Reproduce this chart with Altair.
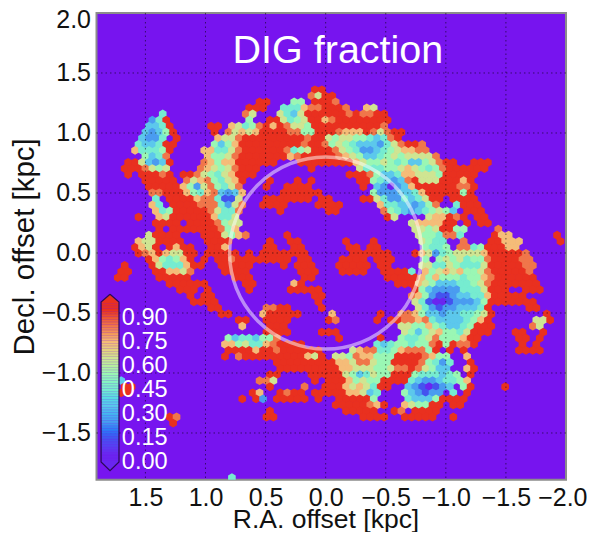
import altair as alt
import pandas as pd
import numpy as np

# Hexagon cells: (row, first column, codes). '.' = no cell.
# A code d stands for a DIG fraction of about (d + 0.5) / 10.
HEX_RUNS = [
 (0,28,"99"),
 (1,27,"8699"),
 (2,20,"99"),(2,25,"55"),(2,28,"9998"),
 (3,18,"999"),(3,23,"4447889998"),(3,35,"76"),
 (4,6,"4"),(4,18,"86"),(4,23,"6436"),(4,27,"999999898899"),
 (5,4,"249"),(5,18,"5"),(5,21,"9964569978"),(5,31,"99999999"),
 (6,4,"3349"),(6,13,"99"),(6,16,"76458"),(6,21,"9798665"),(6,28,"9999999999"),(6,38,"8"),
 (7,3,"32359"),(7,13,"9"),(7,15,"86767"),(7,20,"9999"),(7,24,"8855"),(7,28,"999"),(7,31,"8777"),(7,35,"9868"),(7,39,"99"),
 (8,3,"3224"),(8,8,"9"),(8,14,"7668"),(8,18,"999999999"),(8,27,"8996"),(8,31,"56655"),(8,36,"43489"),
 (9,2,"433499"),(9,13,"5357"),(9,17,"999999999"),(9,26,"89985"),(9,31,"65433"),(9,36,"3246"),(9,40,"8998"),
 (10,2,"744459"),(10,12,"774468"),(10,18,"999999"),(10,24,"8456"),(10,28,"999"),(10,31,"8654"),(10,35,"22345"),(10,40,"67788"),
 (11,3,"5348"),(11,12,"75568"),(11,17,"9999999"),(11,24,"78"),(11,26,"99999"),(11,31,"87653"),(11,36,"3456"),(11,40,"566668"),
 (12,1,"9963239"),(12,12,"87577"),(12,17,"999999"),(12,26,"99999999"),(12,34,"76556"),(12,39,"54533"),(12,44,"56899"),(12,51,"999"),
 (13,0,"9998656"),(13,11,"876568"),(13,17,"999"),(13,27,"9"),(13,34,"6444"),(13,38,"5567654"),(13,45,"58"),(13,47,"999999"),
 (14,1,"9"),(14,3,"99989"),(14,9,"99865467"),(14,17,"999"),(14,33,"9998"),(14,37,"533477"),(14,43,"6665"),(14,47,"99999"),
 (15,3,"99999"),(15,9,"867854679"),(15,21,"9"),(15,25,"9"),(15,27,"9"),(15,34,"99"),(15,36,"54323"),(15,41,"89"),(15,43,"666"),(15,46,"99979"),
 (16,4,"99999"),(16,9,"752685468"),(16,21,"9"),(16,24,"9999"),(16,35,"9"),(16,37,"320237"),(16,43,"999999"),(16,49,"889"),
 (17,4,"88999"),(17,9,"75478"),(17,14,"3237"),(17,23,"999999"),(17,36,"5"),(17,37,"222334"),(17,43,"7"),(17,44,"99999"),(17,49,"59"),
 (18,5,"4"),(18,7,"9999"),(18,11,"788"),(18,14,"4116"),(18,21,"9999999"),(18,29,"99"),(18,35,"99"),(18,37,"642243"),(18,43,"46"),(18,45,"99"),(18,48,"9999"),
 (19,4,"74"),(19,7,"9999"),(19,11,"888"),(19,14,"4268"),(19,20,"9999"),(19,28,"9999"),(19,37,"7443323"),(19,44,"58"),(19,48,"4999"),
 (20,5,"745"),(20,8,"99999"),(20,13,"86448"),(20,23,"9"),(20,30,"99"),(20,38,"85432345653"),(20,50,"999"),
 (21,2,"9"),(21,5,"76"),(21,7,"999999"),(21,13,"7446"),(21,38,"96"),(21,44,"677989"),(21,51,"99"),
 (22,5,"9999"),(22,10,"9999"),(22,14,"8566"),(22,42,"677779"),(22,48,"9"),(22,50,"9"),(22,52,"99"),
 (23,5,"9"),(23,7,"9999999"),(23,14,"857"),(23,42,"66569955"),(23,54,"8"),
 (24,4,"69999"),(24,12,"999"),(24,15,"6578"),(24,24,"9"),(24,43,"6554884"),(24,54,"977"),(24,63,"9"),
 (25,2,"7669999"),(25,12,"9999"),(25,21,"9"),(25,24,"99"),(25,32,"9"),(25,36,"9"),(25,43,"6544"),(25,49,"8"),(25,53,"99777"),(25,63,"9"),
 (26,2,"976"),(26,5,"9"),(26,7,"9799"),(26,13,"99"),(26,15,"7"),(26,21,"99"),(26,25,"99"),(26,33,"99"),(26,36,"99"),(26,44,"5445"),(26,49,"8845"),(26,53,"999"),(26,56,"77"),
 (27,2,"987976699"),(27,12,"99999"),(27,18,"9"),(27,20,"9999999"),(27,33,"999999"),(27,42,"97624566667"),(27,53,"999998"),
 (28,4,"9754579"),(28,12,"9"),(28,14,"99899"),(28,19,"999999"),(28,26,"99"),(28,32,"9999"),(28,37,"999"),(28,44,"5"),(28,46,"56564558"),(28,54,"9999"),(28,58,"88"),
 (29,0,"9"),(29,4,"96444799"),(29,14,"99999"),(29,23,"9"),(29,25,"999"),(29,31,"99999"),(29,37,"99"),(29,43,"6"),(29,44,"644654446"),(29,53,"99999"),(29,58,"88"),
 (30,0,"99"),(30,5,"997768"),(30,15,"9999"),(30,26,"999"),(30,32,"9999"),(30,38,"99994"),(30,44,"756767556"),(30,53,"8"),(30,54,"99999"),(30,59,"8"),
 (31,-1,"99"),(31,5,"99999"),(31,16,"999"),(31,26,"99"),(31,38,"99999"),(31,43,"7575554557"),(31,53,"8"),(31,54,"999999"),
 (32,7,"999999"),(32,18,"99"),(32,25,"79"),(32,40,"9997"),(32,44,"653334456"),(32,53,"8"),(32,54,"9999999"),
 (33,8,"999"),(33,12,"9"),(33,18,"9"),(33,24,"99999"),(33,42,"9532222"),(33,49,"4446"),(33,53,"999"),(33,58,"999"),
 (34,10,"9"),(34,12,"99"),(34,28,"99"),(34,42,"875211233447"),(34,54,"99999"),
 (35,10,"9999"),(35,28,"9"),(35,42,"64100122235"),(35,53,"9999999"),
 (36,13,"99"),(36,21,"8899"),(36,29,"9"),(36,43,"6421223334"),(36,53,"9"),(36,59,"99"),
 (37,14,"99"),(37,20,"799999"),(37,30,"7"),(37,37,"9"),(37,40,"887"),(37,43,"5332334456"),(37,53,"9"),(37,61,"9"),
 (38,17,"99"),(38,21,"9999"),(38,30,"98"),(38,37,"9"),(38,39,"99"),(38,41,"887"),(38,44,"843333457"),(38,53,"9"),(38,60,"669"),
 (39,17,"7"),(39,21,"999"),(39,40,"66557543345"),(39,51,"999"),(39,59,"86"),
 (40,21,"9999"),(40,29,"999"),(40,41,"6535675546"),(40,51,"999"),(40,57,"99"),(40,61,"9"),
 (41,15,"5344355"),(41,22,"8"),(41,31,"9"),(41,37,"9"),(41,40,"5445685557"),(41,50,"99"),(41,57,"99"),(41,60,"9"),
 (42,15,"77564478"),(42,23,"9999"),(42,37,"434554558959889"),(42,58,"9"),(42,60,"9"),
 (43,15,"9999"),(43,19,"79"),(43,21,"98999999"),(43,33,"6788"),(43,37,"4457888"),(43,44,"59"),(43,47,"9"),(43,49,"9"),(43,57,"9999"),
 (44,15,"9"),(44,17,"89"),(44,19,"99999999"),(44,27,"769"),(44,31,"6658775559"),(44,41,"999"),(44,44,"8755"),(44,50,"7"),
 (45,22,"999999999"),(45,31,"77688655"),(45,39,"9999"),(45,43,"85424"),(45,50,"9"),
 (46,23,"999999999"),(46,32,"7766655688"),(46,42,"9"),(46,43,"86533"),(46,50,"79"),
 (47,21,"99"),(47,27,"99"),(47,29,"999"),(47,32,"6534655"),(47,39,"999"),(47,42,"5444345"),(47,50,"9"),
 (48,0,"3"),(48,20,"886"),(48,28,"9"),(48,30,"999"),(48,33,"75655"),(48,38,"9999"),(48,42,"432234457"),
 (49,0,"99"),(49,21,"9"),(49,26,"8"),(49,29,"999"),(49,32,"76764"),(49,37,"99"),(49,41,"3210123"),(49,49,"59"),(49,55,"9"),
 (50,0,"99"),(50,19,"97"),(50,23,"9899"),(50,28,"99999"),(50,33,"77634"),(50,41,"532122"),(50,48,"4"),(50,50,"9"),
 (51,17,"9"),(51,19,"92"),(51,22,"99999"),(51,28,"9"),(51,31,"99999"),(51,36,"5"),(51,41,"43335"),(51,46,"9999"),
 (52,31,"99999"),(52,36,"879"),(52,41,"7655"),(52,45,"99"),(52,48,"99"),
 (53,21,"9"),(53,32,"99999"),(53,39,"98"),(53,42,"9999"),
 (54,7,"98"),(54,21,"99"),(54,35,"9999"),(54,41,"99999"),(54,48,"9"),
 (55,7,"9"),
 (64,16,"4"),
]

CODE_VALUES = [0.05, 0.15, 0.25, 0.35, 0.45, 0.55, 0.65, 0.75, 0.85, 0.95]
CODE_COLORS = ["#6a25f0", "#4453ef", "#4a9cf0", "#5cc8ec", "#76ecd0",
               "#9af7b4", "#cfe592", "#f5bc78", "#f0764a", "#e9301f"]
BACKGROUND = "#7714ef"

X_TICKS = [1.5, 1.0, 0.5, 0.0, -0.5, -1.0, -1.5, -2.0]
Y_TICKS = [-1.5, -1.0, -0.5, 0.0, 0.5, 1.0, 1.5, 2.0]
CBAR_TICKS = [0.00, 0.15, 0.30, 0.45, 0.60, 0.75, 0.90]

# hexagonal grid of the binning, in kpc
X0, DX = 1.7013, 0.05757
Y0, DY = 1.36, 0.0505

cells = []
for r, c0, codes in HEX_RUNS:
    for i, ch in enumerate(codes):
        if ch == ".":
            continue
        c = c0 + i
        cells.append({"x": X0 - c * DX - (r % 2) * DX / 2,
                      "y": Y0 - r * DY,
                      "v": CODE_VALUES[int(ch)]})
hex_df = pd.DataFrame(cells)

sx = alt.Scale(domain=[1.907, -2.0], nice=False, zero=False)
sy = alt.Scale(domain=[-1.89, 2.0], nice=False, zero=False)
FONT = "Liberation Sans"
ax_x = alt.Axis(values=X_TICKS, format=".1f", grid=False, ticks=False, domain=False,
                labelFont=FONT, labelFontSize=25, labelColor="#111", labelPadding=6,
                labelOverlap=False, labelFlush=True, labelFlushOffset=21, titleFont=FONT, titleFontSize=26.5,
                titleFontWeight="normal", titleColor="#111", titlePadding=-4, titleX=229)
ax_y = alt.Axis(values=Y_TICKS, format=".1f", grid=False, ticks=False, domain=False,
                labelFont=FONT, labelFontSize=25, labelColor="#111", labelPadding=6,
                labelOverlap=False, labelFlush=True, labelFlushOffset=5, titleFont=FONT,
                titleFontSize=29.5, titleFontWeight="normal", titleColor="#111", titlePadding=2)
X = alt.X("x:Q", scale=sx, axis=ax_x, title="R.A. offset [kpc]")
Y = alt.Y("y:Q", scale=sy, axis=ax_y, title="Decl. offset [kpc]")
col_scale = alt.Scale(domain=CODE_VALUES, range=CODE_COLORS, clamp=True)

HEX = "M0,-1L0.866,-0.5L0.866,0.5L0,1L-0.866,0.5L-0.866,-0.5Z"
hexes = alt.Chart(hex_df).mark_point(shape=HEX, filled=True, size=78, opacity=1, clip=True).encode(
    x=X, y=Y, color=alt.Color("v:Q", scale=col_scale, legend=None))

gx = alt.Chart(pd.DataFrame({"x": X_TICKS[:-1]})).mark_rule(
    color="#000", opacity=0.55, strokeDash=[1.5, 3], strokeWidth=1).encode(x=X)
gy = alt.Chart(pd.DataFrame({"y": Y_TICKS[:-1]})).mark_rule(
    color="#000", opacity=0.55, strokeDash=[1.5, 3], strokeWidth=1).encode(y=Y)

ring = alt.Chart(pd.DataFrame({"x": [0.0], "y": [0.0]})).mark_point(
    shape="circle", filled=False, size=36900, stroke="#ffffff", strokeWidth=3.5, opacity=0.5).encode(x=X, y=Y)

title = alt.Chart(pd.DataFrame({"x": [-0.102], "y": [1.683], "t": ["DIG fraction"]})).mark_text(
    font=FONT, fontSize=39.5, color="#ffffff", align="center", baseline="middle").encode(x=X, y=Y, text="t:N")

# colour bar, drawn inside the plot
CB_L, CB_R = 1.869, 1.72
CB_Y0, CB_H = -1.742, 1.333
CB_TOP_TIP, CB_BOT_TIP = -0.344, -1.814
levels = np.arange(0, 1, 0.01)
cb_df = pd.DataFrame({"x": CB_L, "x2": CB_R,
                      "y": CB_Y0 + levels * CB_H,
                      "y2": CB_Y0 + (levels + 0.0105) * CB_H,
                      "v": levels + 0.005})
cbar = alt.Chart(cb_df).mark_rect().encode(
    x=X, x2="x2:Q", y=Y, y2="y2:Q", color=alt.Color("v:Q", scale=col_scale, legend=None))
mid = (CB_L + CB_R) / 2
top_top = CB_Y0 + CB_H
tri_top = alt.Chart(pd.DataFrame({"x": [CB_L, mid, CB_R], "y": [top_top] * 3,
                                  "y2": [top_top, CB_TOP_TIP, top_top]})).mark_area(color="#e9301f").encode(
    x=X, y=Y, y2="y2:Q")
tri_bot = alt.Chart(pd.DataFrame({"x": [CB_L, mid, CB_R], "y": [CB_Y0] * 3,
                                  "y2": [CB_Y0, CB_BOT_TIP, CB_Y0]})).mark_area(color="#6a25f0").encode(
    x=X, y=Y, y2="y2:Q")
outline = alt.Chart(pd.DataFrame({
    "x": [mid, CB_R, CB_R, mid, CB_L, CB_L, mid],
    "y": [CB_TOP_TIP, top_top, CB_Y0, CB_BOT_TIP, CB_Y0, top_top, CB_TOP_TIP],
    "o": list(range(7))})).mark_line(color="#2a0a55", strokeWidth=1.2).encode(
    x=X, y=Y, order="o:Q")
cb_labels = alt.Chart(pd.DataFrame({
    "x": [CB_R - 0.024] * len(CBAR_TICKS),
    "y": [CB_Y0 + t * CB_H for t in CBAR_TICKS],
    "t": [f"{t:.2f}" for t in CBAR_TICKS]})).mark_text(
    font=FONT, fontSize=23.5, color="#ffffff", align="left", baseline="middle").encode(x=X, y=Y, text="t:N")

chart = alt.layer(hexes, gx, gy, ring, title, cbar, tri_top, tri_bot, outline, cb_labels).properties(
    width=469.5, height=466.8,
    padding={"left": 88.5, "top": 5, "right": 21, "bottom": 52},
    autosize=alt.AutoSizeParams(type="none"),
    background="#ffffff",
).configure_view(fill=BACKGROUND, stroke="#8c8c8c", strokeWidth=2)

chart.save("out.html", embed_options={"renderer": "svg", "actions": False})
